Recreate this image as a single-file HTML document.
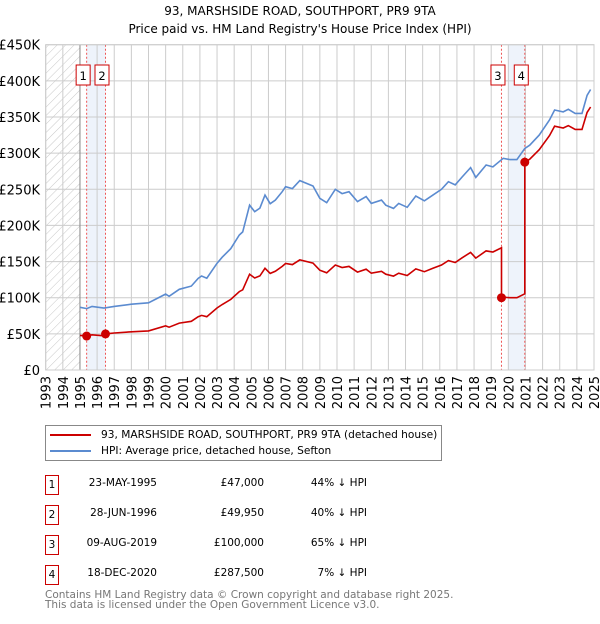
<!DOCTYPE html>
<html><head><meta charset="utf-8">
<style>
body{margin:0;background:#fff;font-family:"DejaVu Sans","Liberation Sans",sans-serif;}
svg text{font-family:"DejaVu Sans","Liberation Sans",sans-serif;}
</style></head>
<body>
<svg id="chart" width="600" height="620" viewBox="0 0 600 620" xmlns="http://www.w3.org/2000/svg">
<defs>
<pattern id="hatch" width="6" height="6" patternUnits="userSpaceOnUse" patternTransform="rotate(45)">
<line x1="0" y1="0" x2="0" y2="6" stroke="#c8c8c8" stroke-width="1"/>
</pattern>
</defs>
<text x="300" y="15" text-anchor="middle" font-size="12">93, MARSHSIDE ROAD, SOUTHPORT, PR9 9TA</text>
<text x="300" y="33" text-anchor="middle" font-size="12">Price paid vs. HM Land Registry's House Price Index (HPI)</text>
<g id="grid"></g>
<g id="marks"></g>
<g id="axes"></g>
</svg>
<script>
const hpiYears=[1995.0,1995.4,1995.7,1996.4,1997,1998,1999,2000,2000.2,2000.8,2001.5,2001.9,2002.1,2002.4,2003.0,2003.3,2003.8,2004.3,2004.5,2004.9,2005.2,2005.5,2005.8,2006.1,2006.4,2006.8,2007.0,2007.4,2007.83,2008.6,2009.0,2009.4,2009.9,2010.3,2010.7,2011.2,2011.7,2012.0,2012.6,2012.85,2013.3,2013.6,2014.1,2014.6,2015.1,2015.6,2016.1,2016.5,2016.9,2017.3,2017.8,2018.1,2018.7,2019.1,2019.7,2020.1,2020.5,2020.96,2021.25,2021.8,2022.4,2022.7,2023.2,2023.5,2023.9,2024.3,2024.6,2024.8];
const hpiValues=[86.7,85,88,85.6,88,91,93,105,102,111.6,116,126.8,130,127,147.6,156,168,186.7,191,228,219,224,242,230,235,246.7,253.6,251,262,254.5,237.5,231.5,250,244,246.7,233,240,230.5,235,228,223.6,230.5,225,240.7,234,242,250,260.5,256,267,280,266.5,283.6,281,292.8,291,291,306.6,311,325,345.8,359.7,357,360.6,355,355,380,388];
const saleLabels=["1","2","3","4"];
const saleYears=[1995.39,1996.49,2019.6,2020.96];
const salePrices=[47,49.95,100,287.5];
const yTicks=[0,50,100,150,200,250,300,350,400,450];
const yTickLabels=["£0","£50K","£100K","£150K","£200K","£250K","£300K","£350K","£400K","£450K"];
const xTicks=[1993,1994,1995,1996,1997,1998,1999,2000,2001,2002,2003,2004,2005,2006,2007,2008,2009,2010,2011,2012,2013,2014,2015,2016,2017,2018,2019,2020,2021,2022,2023,2024,2025];

const X0=45.7,X1=594,Y0=370,Y1=44.7;
const xs=y=>X0+(y-1993)/(2025-1993)*(X1-X0);
const ys=v=>Y0-v/450*(Y0-Y1);
const NS="http://www.w3.org/2000/svg";
function mk(tag,attrs,parent){const e=document.createElementNS(NS,tag);for(const k in attrs)e.setAttribute(k,attrs[k]);parent.appendChild(e);return e;}
const grid=document.getElementById('grid'),marks=document.getElementById('marks'),axes=document.getElementById('axes');
function hpiAt(t){for(let i=0;i<hpiYears.length-1;i++){if(t>=hpiYears[i]&&t<=hpiYears[i+1]){const f=(t-hpiYears[i])/(hpiYears[i+1]-hpiYears[i]);return hpiValues[i]+f*(hpiValues[i+1]-hpiValues[i]);}}return t<hpiYears[0]?hpiValues[0]:hpiValues[hpiValues.length-1];}

let r=mk('rect',{x:X0,y:Y1,width:xs(1995)-X0,height:Y0-Y1,fill:'url(#hatch)'},grid);


r=mk('rect',{x:xs(saleYears[0]),y:Y1,width:xs(saleYears[1])-xs(saleYears[0]),height:Y0-Y1,fill:'#eef3fb'},grid);


r=mk('rect',{x:xs(2020),y:Y1,width:xs(saleYears[3])-xs(2020),height:Y0-Y1,fill:'#eef3fb'},grid);


yTicks.forEach((v,i)=>{
  const l=mk('line',{x1:X0,x2:X1,y1:ys(v),y2:ys(v),stroke:'#cccccc','stroke-width':1},grid);
  
  
  const t=mk('text',{x:40,y:ys(v)+5,'text-anchor':'end','font-size':13},axes);
  t.textContent=yTickLabels[i];
  
  
});
xTicks.forEach(yr=>{
  const l=mk('line',{x1:xs(yr),x2:xs(yr),y1:Y1,y2:Y0,stroke:'#cccccc','stroke-width':1},grid);
  
  
  const t=mk('text',{x:0,y:0,'text-anchor':'end','font-size':13,transform:`translate(${xs(yr)+5},376) rotate(-90)`},axes);
  t.textContent=yr;
  
  
});
let b=mk('line',{x1:xs(1995),x2:xs(1995),y1:Y1,y2:Y0,stroke:'#888','stroke-width':1},grid);


saleYears.forEach(sy=>{
  const l=mk('line',{x1:xs(sy),x2:xs(sy),y1:Y1,y2:Y0,stroke:'#ee5555','stroke-width':1,'stroke-dasharray':'2,2'},grid);
  
  
});
const hp=hpiYears.map((y,i)=>`${xs(y).toFixed(1)},${ys(hpiValues[i]).toFixed(1)}`).join(' ');
let pl=mk('polyline',{points:hp,fill:'none',stroke:'#5b8bd0','stroke-width':1.6},marks);


const pts=[];
let ratio=salePrices[0]/hpiAt(saleYears[0]);
let si=0;
hpiYears.forEach((y,i)=>{
  while(si<saleYears.length&&saleYears[si]<=y){
    if(si>0){pts.push([saleYears[si],ratio*hpiAt(saleYears[si])]);}
    pts.push([saleYears[si],salePrices[si]]);
    ratio=salePrices[si]/hpiAt(saleYears[si]);
    si++;
  }
  pts.push([y,ratio*hpiValues[i]]);
});
pl=mk('polyline',{points:pts.map(p=>`${xs(p[0]).toFixed(1)},${ys(p[1]).toFixed(1)}`).join(' '),fill:'none',stroke:'#cc0000','stroke-width':1.6},marks);


saleYears.forEach((sy,i)=>{
  const c=mk('circle',{cx:xs(sy),cy:ys(salePrices[i]),r:4.5,fill:'#cc0000'},marks);
  
  
  const g=mk('g',{},marks);
  
  
  const cx=xs(sy)-3.5;
  mk('rect',{x:cx-7,y:65,width:14,height:20,fill:'#fff',stroke:'#cc0000','stroke-width':1},g);
  const t=mk('text',{x:cx,y:80,'text-anchor':'middle','font-size':11.5},g);
  t.textContent=saleLabels[i];
});
let fr=mk('rect',{x:X0,y:Y1,width:X1-X0,height:Y0-Y1,fill:'none',stroke:'#cccccc','stroke-width':1},axes);


</script>
<div style="position:absolute;left:45px;top:425px;width:397px;height:36px;border:1px solid #888;box-sizing:border-box;font-size:10.6px;">
 <div style="position:absolute;left:4px;top:3px;white-space:nowrap;"><span style="display:inline-block;width:41px;height:2px;background:#cc0000;vertical-align:middle;margin-right:10px;"></span>93, MARSHSIDE ROAD, SOUTHPORT, PR9 9TA (detached house)</div>
 <div style="position:absolute;left:4px;top:19px;white-space:nowrap;"><span style="display:inline-block;width:41px;height:2px;background:#5b8bd0;vertical-align:middle;margin-right:10px;"></span>HPI: Average price, detached house, Sefton</div>
</div>
<div style="position:absolute;left:0;top:0;font-size:10.5px;">
 <div>
  <div style="position:absolute;left:45px;top:475px;width:14px;height:20px;border:1px solid #cc0000;box-sizing:border-box;text-align:center;line-height:18px;">1</div>
  <div style="position:absolute;left:57px;top:477px;width:100px;text-align:right;">23-MAY-1995</div>
  <div style="position:absolute;left:164px;top:477px;width:100px;text-align:right;">£47,000</div>
  <div style="position:absolute;left:267px;top:477px;width:100px;text-align:right;">44% ↓ HPI</div>
 </div>
 <div>
  <div style="position:absolute;left:45px;top:505px;width:14px;height:20px;border:1px solid #cc0000;box-sizing:border-box;text-align:center;line-height:18px;">2</div>
  <div style="position:absolute;left:57px;top:507px;width:100px;text-align:right;">28-JUN-1996</div>
  <div style="position:absolute;left:164px;top:507px;width:100px;text-align:right;">£49,950</div>
  <div style="position:absolute;left:267px;top:507px;width:100px;text-align:right;">40% ↓ HPI</div>
 </div>
 <div>
  <div style="position:absolute;left:45px;top:535px;width:14px;height:20px;border:1px solid #cc0000;box-sizing:border-box;text-align:center;line-height:18px;">3</div>
  <div style="position:absolute;left:57px;top:537px;width:100px;text-align:right;">09-AUG-2019</div>
  <div style="position:absolute;left:164px;top:537px;width:100px;text-align:right;">£100,000</div>
  <div style="position:absolute;left:267px;top:537px;width:100px;text-align:right;">65% ↓ HPI</div>
 </div>
 <div>
  <div style="position:absolute;left:45px;top:565px;width:14px;height:20px;border:1px solid #cc0000;box-sizing:border-box;text-align:center;line-height:18px;">4</div>
  <div style="position:absolute;left:57px;top:567px;width:100px;text-align:right;">18-DEC-2020</div>
  <div style="position:absolute;left:164px;top:567px;width:100px;text-align:right;">£287,500</div>
  <div style="position:absolute;left:267px;top:567px;width:100px;text-align:right;">7% ↓ HPI</div>
 </div>
</div>
<div style="position:absolute;left:45px;top:590px;font-size:10.5px;color:#777;line-height:10px;white-space:nowrap;">Contains HM Land Registry data © Crown copyright and database right 2025.<br>This data is licensed under the Open Government Licence v3.0.</div>
</body></html>
